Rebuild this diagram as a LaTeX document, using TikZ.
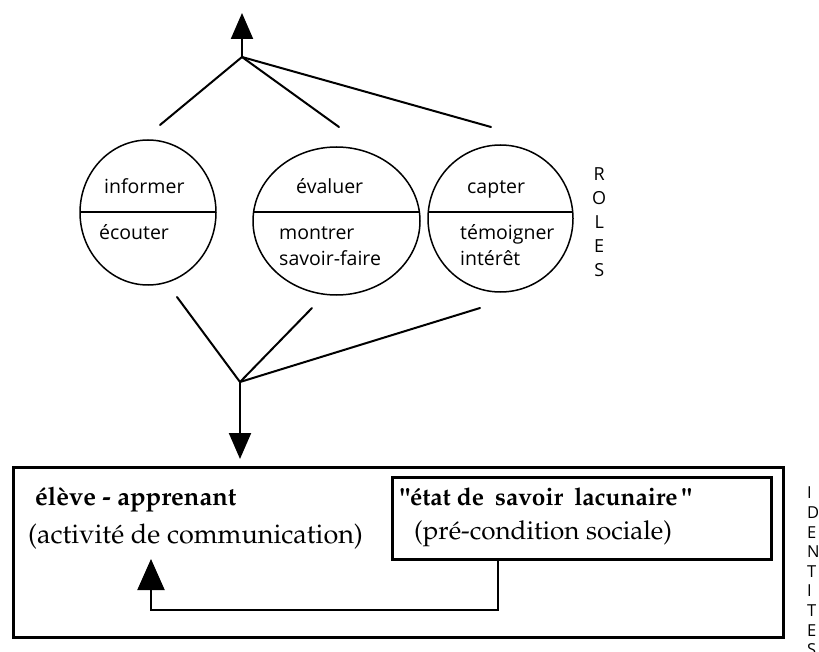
\documentclass[tikz,border=0pt]{standalone}
\usepackage[T1]{fontenc}
\usepackage{fontspec}
\setsansfont{Open Sans}
\usetikzlibrary{arrows.meta,shapes.geometric}
\newcommand\palfont{\fontencoding{T1}\fontfamily{ppl}\selectfont}
\begin{document}
\begin{tikzpicture}[x=1pt,y=-1pt,
 role/.style={ellipse,draw,line width=1.5pt,inner sep=0pt},
 lbl/.style={font=\sffamily\fontsize{19.5}{26}\selectfont,anchor=base west,inner sep=0pt},
 conn/.style={line width=2pt},
 bigtip/.style={-{Triangle[length=26pt,width=22pt]}},
 frame/.style={draw,line width=3pt,inner sep=0pt},
 serif/.style={font={\palfont\fontsize{27}{30}\selectfont},anchor=base west,inner sep=0pt},
 serifb/.style={font={\palfont\bfseries\fontsize{25.5}{30}\selectfont},anchor=base west,inner sep=0pt},
 vert/.style={font=\sffamily\fontsize{18}{24}\selectfont,inner sep=0pt,anchor=north west}]
\useasboundingbox (0,0) rectangle (819,652);

% role ellipses
\node[role, minimum width=136pt, minimum height=145pt] (e1) at (148,212.5) {};
\node[role, minimum width=167pt, minimum height=148pt] (e2) at (336.5,221) {};
\node[role, minimum width=145pt, minimum height=147pt] (e3) at (500.5,218.5) {};
\coordinate (dv) at (0,212);
\begin{scope}
\clip (148,212.5) ellipse [x radius=68pt,y radius=72.5pt];
\draw[line width=1.5pt] ([xshift=-10pt]e1.west |- dv) -- ([xshift=10pt]e1.east |- dv);
\end{scope}
\begin{scope}
\clip (336.5,221) ellipse [x radius=83.5pt,y radius=74pt];
\draw[line width=1.5pt] ([xshift=-10pt]e2.west |- dv) -- ([xshift=10pt]e2.east |- dv);
\end{scope}
\begin{scope}
\clip (500.5,218.5) ellipse [x radius=72.5pt,y radius=73.5pt];
\draw[line width=1.5pt] ([xshift=-10pt]e3.west |- dv) -- ([xshift=10pt]e3.east |- dv);
\end{scope}

\node[lbl] (inf) at (104,194) {informer};
\node[lbl] (eco) at (99,240) {écouter};
\node[lbl] (eva) at (296,194) {évaluer};
\node[lbl] (mon) at (279,240) {montrer};
\node[lbl] (sav) at (279,266) {savoir-faire};
\node[lbl] (cap) at (467,194) {capter};
\node[lbl] (tem) at (460,240) {témoigner};
\node[lbl] (int) at (460,266) {intérêt};

\node[vert, align=center] (roles) at (592,167) {R\\O\\L\\E\\S};

% top fan
\coordinate (jt) at (242,57);
\coordinate (tt) at (242,13);
\coordinate (t1) at (160,125);
\coordinate (t2) at (339,127);
\coordinate (t3) at (491,127);
\draw[conn,bigtip] (jt) -- (tt);
\draw[conn,line cap=round] (t1) -- (jt) -- (t2);
\draw[conn,line cap=round] (jt) -- (t3);

% bottom fan
\coordinate (jb) at (240,382);
\coordinate (b1) at (177,297);
\coordinate (b2) at (312,308);
\coordinate (b3) at (480,308);
\coordinate (tb) at (240,459);
\draw[conn,line cap=round] (b1) -- (jb) -- (b2);
\draw[conn,line cap=round] (jb) -- (b3);
\draw[conn,bigtip] (jb) -- (tb);

% identity box
\node[frame, minimum width=770pt, minimum height=170pt] (outer) at (398,552) {};
\node[frame, minimum width=379pt, minimum height=82pt] (inner) at (581.5,518) {};
\node[serifb] (eleve) at (35,505) {élève - apprenant};
\node[serif] (activ) at (28,543) {(activité de communication)};
\node[serifb, font={\palfont\bfseries\fontsize{24.5}{30}\selectfont}] (etat) at (400,505) {\textquotedbl état de\hspace{0.45em}savoir\hspace{0.45em}lacunaire\,\textquotedbl};
\node[serif, font={\palfont\fontsize{26}{30}\selectfont}] (prec) at (414,539) {(pré-condition sociale)};

\coordinate (c1) at (498,610);
\coordinate (c2) at (151,610);
\coordinate (tipA) at (151,559);
\draw[conn,-{Triangle[length=31pt,width=27pt]}] (inner.south -| c1) -- (c1) -- (c2) -- (tipA);

\node[vert, align=left, font=\sffamily\fontsize{16.5}{19.6}\selectfont] (ident) at (807,487) {I\\D\\E\\N\\T\\I\\T\\E\\S};
\end{tikzpicture}
\end{document}
